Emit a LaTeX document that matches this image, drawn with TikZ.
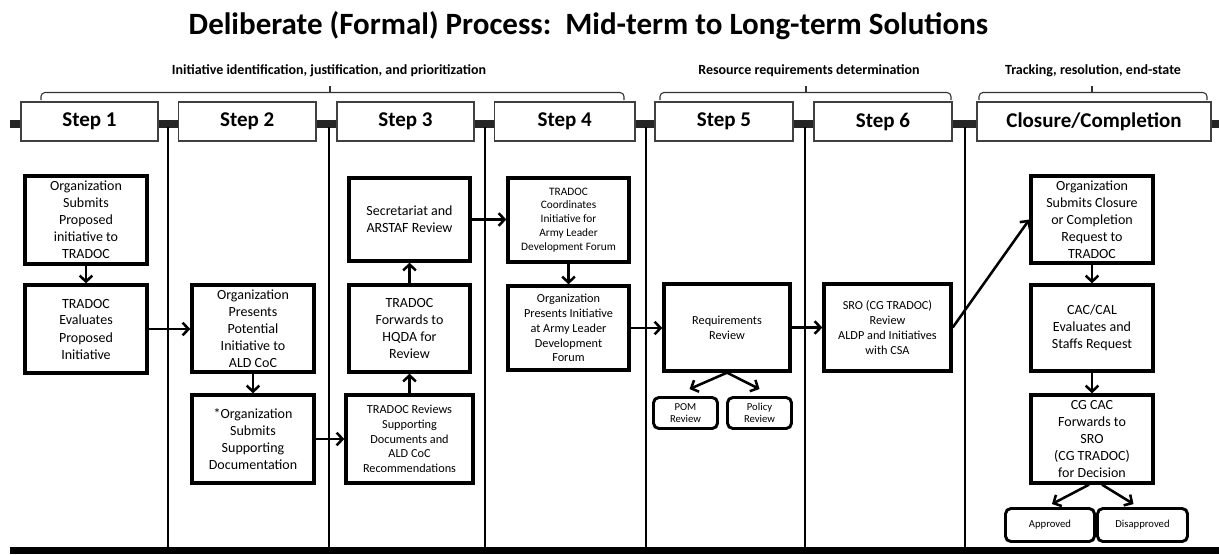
\documentclass[tikz,border=0pt]{standalone}
\usepackage{fontspec}
\setmainfont{Carlito}
\usetikzlibrary{arrows.meta,calc}
\newcommand{\pbx}[7]{%
  \node[#1, minimum width={(#5-#3)*0.75pt}, minimum height={(#6-#4)*0.75pt}] (#2) at ({(#3+#5)/2},{(#4+#6)/2}) {#7};}
\tikzset{
  stepbox/.style={draw=black!75, line width=0.8pt, fill=white, inner sep=0pt,
    font=\fontsize{15.75}{18}\selectfont\bfseries},
  pbox/.style={draw=black, line width=2.5pt, fill=white, inner sep=0pt, align=center,
    font=\fontsize{10.5}{12.75}\selectfont},
  mbox/.style={pbox, font=\fontsize{9.2}{11.1}\selectfont},
  sbox/.style={pbox, font=\fontsize{8.5}{10.35}\selectfont},
  rbox/.style={draw=black, line width=2.2pt, fill=white, inner sep=0pt, align=center,
    rounded corners=4pt, font=\fontsize{8}{9}\selectfont},
  arr/.style={line width=1.9pt, -{Straight Barb[length=4.5pt,width=9.5pt,line width=1.9pt]}},
  brace/.style={line width=0.8pt, black!80, rounded corners=3pt},
  blabel/.style={anchor=base, font=\fontsize{10.5}{12}\selectfont\bfseries},
  vline/.style={line width=1.8pt}
}
\begin{document}
\begin{tikzpicture}[x=0.75pt,y=-0.75pt]
\useasboundingbox (0,0) rectangle (1219,554);
\fill[white] (0,0) rectangle (1219,554);
% title
\node[anchor=base, font=\fontsize{23.25}{27}\selectfont\bfseries] (title) at (588.5,34)
  {Deliberate (Formal) Process:\ \ Mid-term to Long-term Solutions};
% brace labels
\node[blabel] (l1) at (329,74) {Initiative identification, justification, and prioritization};
\node[blabel] (l2) at (809,74) {Resource requirements determination};
\node[blabel] (l3) at (1093,74) {Tracking, resolution, end-state};
% braces
\draw[brace] (41,100) -- (41,92.5) -- (624,92.5) -- (624,100);
\draw[line width=0.8pt, black!80] (330,92.5) -- (330,86);
\draw[brace] (660,100) -- (660,92.5) -- (951,92.5) -- (951,100);
\draw[line width=0.8pt, black!80] (806,92.5) -- (806,86);
\draw[brace] (979,100) -- (979,92.5) -- (1207,92.5) -- (1207,100);
\draw[line width=0.8pt, black!80] (1092,92.5) -- (1092,86);
% bars and vertical lines
\fill[black!85] (10,119.5) rectangle (1219,127.5);
\fill[black] (10,547) rectangle (1219,554);
\foreach \x in {168,329,485,646,805,965} \draw[vline] (\x,127) -- (\x,548);
% step boxes
\pbx{stepbox}{s1}{21}{102}{158}{141}{Step 1}
\pbx{stepbox}{s2}{178.5}{102}{316}{141}{Step 2}
\pbx{stepbox}{s3}{337}{102}{474}{141}{Step 3}
\pbx{stepbox}{s4}{494.5}{102}{635}{141}{Step 4}
\pbx{stepbox}{s5}{655}{102}{793}{141}{Step 5}
\pbx{stepbox}{s6}{814}{102}{952}{141}{Step 6}
\pbx{stepbox}{s7}{977}{102}{1211}{141}{Closure/Completion}
% column 1
\pbx{pbox}{a1}{25}{176}{147}{264}{Organization\\Submits\\Proposed\\initiative to\\TRADOC}
\pbx{pbox}{a2}{25}{285}{147}{373}{TRADOC\\Evaluates\\Proposed\\Initiative}
% column 2
\pbx{pbox}{b1}{192}{285}{314}{372}{Organization\\Presents\\Potential\\Initiative to\\ALD CoC}
\pbx{pbox}{b2}{192}{395}{314}{483}{*Organization\\Submits\\Supporting\\Documentation}
% column 3
\pbx{pbox}{c1}{349}{178}{470}{261}{Secretariat and\\ARSTAF Review}
\pbx{pbox}{c2}{349}{285}{470}{372}{TRADOC\\Forwards to\\HQDA for\\Review}
\pbx{mbox}{c3}{346}{395}{473}{483}{TRADOC Reviews\\Supporting\\Documents and\\ALD CoC\\Recommendations}
% column 4
\pbx{sbox}{d1}{508}{178}{629}{262}{TRADOC\\Coordinates\\Initiative for\\Army Leader\\Development Forum}
\pbx{mbox}{d2}{508}{286}{629}{370}{Organization\\Presents Initiative\\at Army Leader\\Development\\Forum}
% column 5
\pbx{mbox}{e1}{664}{284}{790}{371}{Requirements\\Review}
\pbx{rbox}{pom}{653.5}{397.5}{717.5}{428.5}{POM\\Review}
\pbx{rbox}{pol}{727.5}{397.5}{791.5}{428.5}{Policy\\Review}
% column 6
\pbx{mbox}{f1}{824}{284}{951}{371}{SRO (CG TRADOC)\\Review\\ALDP and Initiatives\\with CSA}
% closure column
\pbx{pbox}{g1}{1031}{176}{1153}{263}{Organization\\Submits Closure\\or Completion\\Request to\\TRADOC}
\pbx{pbox}{g2}{1031}{285}{1153}{371}{CAC/CAL\\Evaluates and\\Staffs Request}
\pbx{pbox}{g3}{1031}{395}{1153}{483}{CG CAC\\Forwards to\\SRO\\(CG TRADOC)\\for Decision}
\pbx{rbox}{app}{1005.5}{508.5}{1094.5}{541.5}{Approved}
\pbx{rbox}{dis}{1097.5}{508.5}{1187.5}{541.5}{Disapproved}
% arrows
\draw[arr] (a1) -- (a2);
\draw[arr] (a2) -- (b1.west |- a2);
\draw[arr] (b1) -- (b2);
\draw[arr] (b2.east) -- (c3.west |- b2.east);
\draw[arr] (c3) -- (c2);
\draw[arr] (c2) -- (c1);
\draw[arr] (c1.east) -- (d1.west |- c1.east);
\draw[arr] (d1) -- (d2);
\draw[arr] (d2.east) -- (e1.west |- d2.east);
\draw[arr] (e1.east) -- (f1.west |- e1.east);
\draw[arr] (e1.south) -- ($(pom.north)+(4,-7)$);
\draw[arr] (e1.south) -- ($(pol.north)+(0,-7)$);
\draw[arr] (f1.east) -- (g1.west);
\draw[arr] (g1) -- (g2);
\draw[arr] (g2) -- (g3);
\draw[arr] ($(g3.south)+(-3,0)$) -- ($(app.north)+(2,-3)$);
\draw[arr] ($(g3.south)+(10,0)$) -- ($(dis.north)+(-9,-3)$);
\end{tikzpicture}
\end{document}
